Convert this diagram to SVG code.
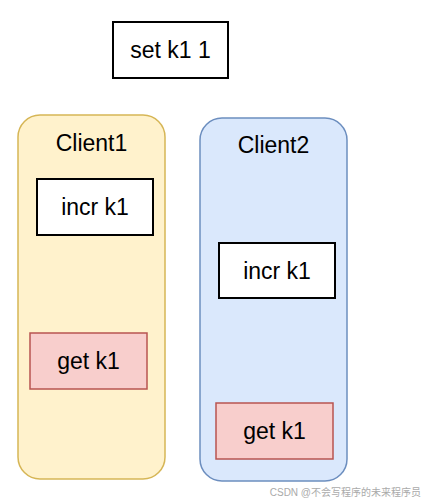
<svg xmlns="http://www.w3.org/2000/svg" width="424" height="502" viewBox="0 0 424 502">
<style>
text{font-family:"Liberation Sans",Arial,sans-serif;font-size:23px;fill:#000;text-anchor:middle;dominant-baseline:central}
.w{fill:#fff;stroke:#000;stroke-width:2}
.y{fill:#fff2cc;stroke:#d6b656;stroke-width:1.5}
.b{fill:#dae8fc;stroke:#6c8ebf;stroke-width:1.5}
.r{fill:#f8cecc;stroke:#b85450;stroke-width:1.5}
.wm{font-size:10px;fill:#aaa;text-anchor:end;font-family:"Liberation Sans","Noto Sans CJK SC",sans-serif}
</style>
<rect width="424" height="502" fill="#fff"/>
<g id="set"><rect class="w" x="113" y="22" width="115" height="56"/><text x="170.5" y="50">set k1 1</text></g>
<g id="client1"><rect class="y" x="18" y="115" width="147" height="364" rx="22"/><text x="91.5" y="142.5">Client1</text></g>
<g id="client2"><rect class="b" x="200" y="118" width="147" height="363" rx="22"/><text x="273.5" y="145">Client2</text></g>
<g id="incr1"><rect class="w" x="37" y="179" width="116" height="56"/><text x="95" y="207">incr k1</text></g>
<g id="get1"><rect class="r" x="30" y="333" width="117" height="56"/><text x="88.5" y="361">get k1</text></g>
<g id="incr2"><rect class="w" x="219" y="243" width="116" height="55"/><text x="277" y="270.5">incr k1</text></g>
<g id="get2"><rect class="r" x="216" y="403" width="117" height="56"/><text x="274.5" y="431">get k1</text></g>
<g id="connectors"></g>
<text class="wm" x="421" y="492">CSDN @不会写程序的未来程序员</text>
</svg>
